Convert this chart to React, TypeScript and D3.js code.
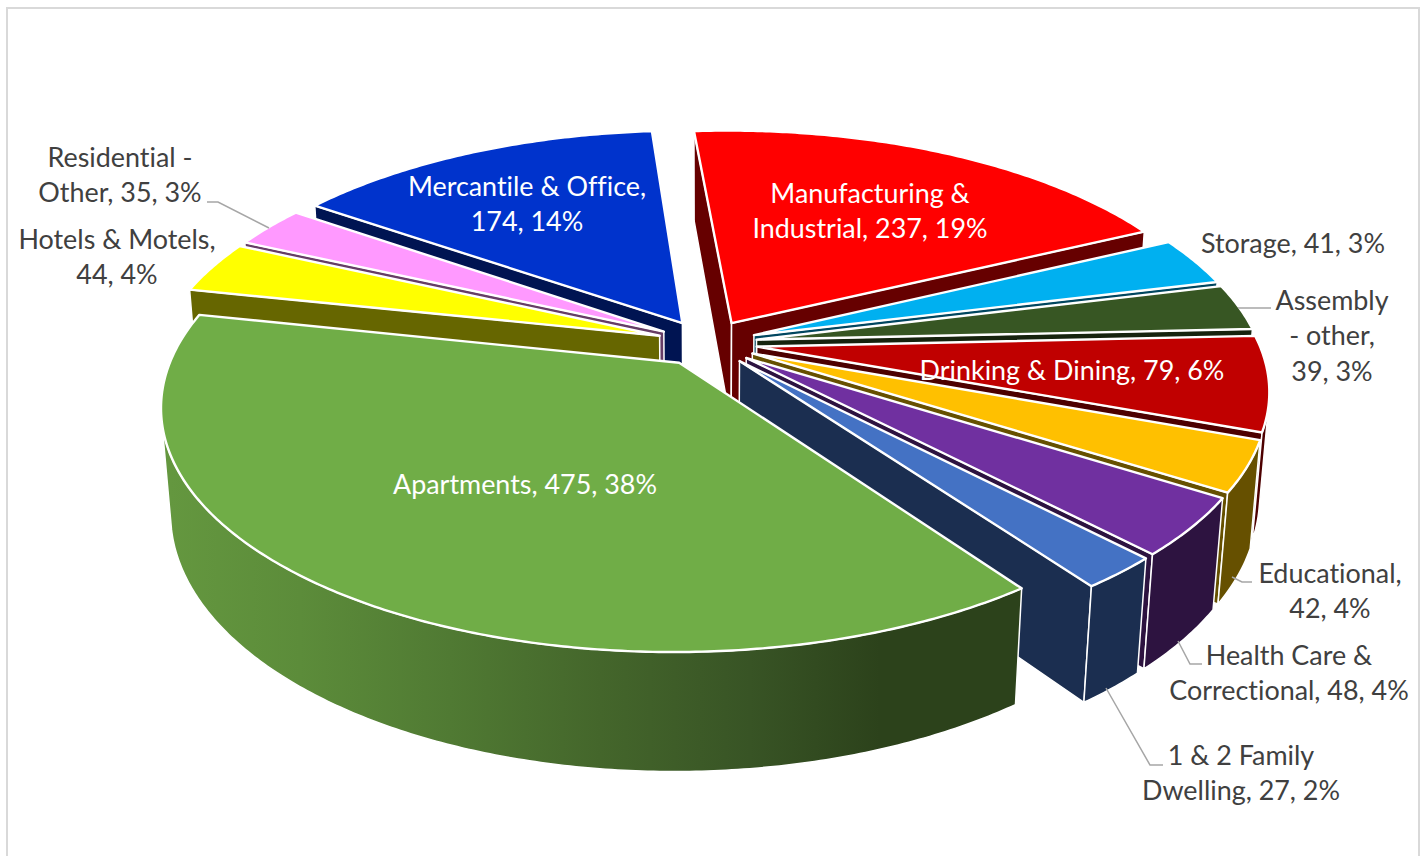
import React from "react";
import * as d3 from "d3";

const categories = ["Apartments","Hotels & Motels","Residential - Other","Mercantile & Office","Manufacturing & Industrial","Storage","Assembly - other","Drinking & Dining","Educational","Health Care & Correctional","1 & 2 Family Dwelling"];
const values = [475,44,35,174,237,41,39,79,42,48,27];
const topColors = ["#70AD47","#FFFF00","#FF99FF","#0033CC","#FF0000","#00B0F0","#375623","#C00000","#FFC000","#7030A0","#4472C4"];
const wallColors = ["url(#greenWall)","#666600","#663D66","#001452","#660000","#00465F","#16230E","#4D0000","#665000","#2D1340","#1B2E50"];

const labelLines = [
  ["Apartments, 475, 38%"],
  ["Hotels & Motels,","44, 4%"],
  ["Residential -","Other, 35, 3%"],
  ["Mercantile & Office,","174, 14%"],
  ["Manufacturing &","Industrial, 237, 19%"],
  ["Storage, 41, 3%"],
  ["Assembly","- other,","39, 3%"],
  ["Drinking & Dining, 79, 6%"],
  ["Educational,","42, 4%"],
  ["Health Care &","Correctional, 48, 4%"],
  ["1 & 2 Family","Dwelling, 27, 2%"],
];
const labelCentres: [number, number][] = [[525,484],[117,239],[120,157],[527,186],[870,193],[1293,243],[1332,300],[1072,370],[1330,573],[1289,655],[1241,755]];
const labelColors = ["#fff","#404040","#404040","#fff","#fff","#404040","#404040","#fff","#404040","#404040","#404040"];
const leaders: [number, number][][] = [
  [[207,202],[218,202],[269,228]],
  [[1271,308],[1238,308]],
  [[1252,582],[1242,582],[1232,577]],
  [[1202,664],[1190,664],[1178,641]],
  [[1163,765],[1150,765],[1106,688]],
];
const greenStops: [number, string][] = [[170,"#64973F"],[300,"#5C8C3A"],[450,"#507A33"],[600,"#44662B"],[750,"#385425"],[880,"#2C421B"],[1020,"#2C421B"]];

const cx = 707, cy = 343, A = 502, B = 232, D = 104.5, K = 0.172, M = 0.017, EXPLODE = 0.1;
const START = (144.2 * Math.PI) / 180;

type P = [number, number];
const project = (X: number, Y: number, h: number): P => {
  const w = 1 - K * Y + M * h;
  return [cx + (A * X) / w, cy + (B * Y + D * h) / w];
};

const pie = d3.pie<number>().sort(null).startAngle(START).endAngle(START + 2 * Math.PI);
const line = d3.line<P>();
const arcs = pie(values);

const slices = arcs.map((a, i) => {
  const mid = (a.startAngle + a.endAngle) / 2;
  const ox = EXPLODE * Math.sin(mid), oy = -EXPLODE * Math.cos(mid);
  const n = Math.max(2, Math.ceil((a.endAngle - a.startAngle) / 0.01));
  const angs = d3.range(n + 1).map((j) => a.startAngle + ((a.endAngle - a.startAngle) * j) / n);
  const rim = (h: number) => angs.map((t) => project(ox + Math.sin(t), oy - Math.cos(t), h));
  const topRim = rim(0), botRim = rim(1);
  const c0 = project(ox, oy, 0), c1 = project(ox, oy, 1);
  const wallA: P[] = [c0, topRim[0], botRim[0], c1];
  const wallB: P[] = [c0, topRim[n], botRim[n], c1];
  // keep only the part of the rim wall that faces the viewer
  const front = d3.range(n + 1).filter((j) => {
    const k = Math.min(j, n - 1);
    return d3.polygonArea([topRim[k], topRim[k + 1], botRim[k + 1], botRim[k]]) > 0;
  });
  const outerTop = front.map((j) => topRim[j]);
  const outerBot = front.map((j) => botRim[j]).reverse();
  return {
    i, depth: oy,
    top: line([c0, ...topRim])! + "Z",
    outer: front.length > 1 ? line([...outerTop, ...outerBot])! + "Z" : null,
    wallA: d3.polygonArea(wallA) > 0 ? line(wallA)! + "Z" : null,
    wallB: d3.polygonArea(wallB) < 0 ? line(wallB)! + "Z" : null,
  };
}).sort((p, q) => p.depth - q.depth);

export default function App() {
  return (
    <svg width={1424} height={856} style={{ position: "absolute", left: 0, top: 0, display: "block", background: "#fff" }}>
      <defs>
        <linearGradient id="greenWall" gradientUnits="userSpaceOnUse" x1={170} y1={0} x2={1020} y2={0}>
          {greenStops.map(([x, c]) => <stop key={x} offset={(x - 170) / 850} stopColor={c} />)}
        </linearGradient>
      </defs>
      <path d="M7,860V8H1419V860" fill="none" stroke="#D9D9D9" strokeWidth={2} />
      {slices.map((s) => {
        const flat = wallColors[s.i] === "url(#greenWall)" ? "#2C421B" : wallColors[s.i];
        return (
          <g key={categories[s.i]} strokeLinejoin="round">
            {s.wallA && <path d={s.wallA} fill={flat} stroke="#fff" strokeWidth={1.5} />}
            {s.wallB && <path d={s.wallB} fill={flat} stroke="#fff" strokeWidth={1.5} />}
            {s.outer && <path d={s.outer} fill={wallColors[s.i]} stroke="#fff" strokeWidth={1.5} />}
            <path d={s.top} fill={topColors[s.i]} stroke="#fff" strokeWidth={2.4} />
          </g>
        );
      })}
      {leaders.map((l, i) => <path key={i} d={line(l)!} fill="none" stroke="#A6A6A6" strokeWidth={1.5} />)}
      <g fontFamily="Lato, 'Open Sans', sans-serif" fontSize={26.9} textAnchor="middle" style={{ fontVariantLigatures: "none" }}>
        {labelLines.map((ls, i) => ls.map((t, j) => (
          <text key={t} x={labelCentres[i][0]} y={labelCentres[i][1] + 9.5 + j * 35.7} fill={labelColors[i]}>{t}</text>
        )))}
      </g>
    </svg>
  );
}
